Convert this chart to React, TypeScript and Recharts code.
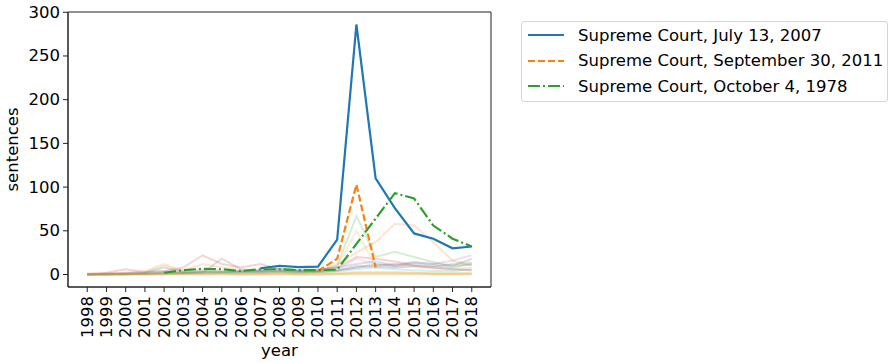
import { LineChart, Line, XAxis, YAxis, ReferenceArea } from 'recharts';

const YEARS = [
  1998, 1999, 2000, 2001, 2002, 2003, 2004, 2005, 2006, 2007, 2008,
  2009, 2010, 2011, 2012, 2013, 2014, 2015, 2016, 2017, 2018,
];

const Y_TICKS = [0, 50, 100, 150, 200, 250, 300];

// highlighted cases
const july2007 = [null, null, null, null, null, null, null, null, null, 7, 10, 8.5, 9, 40, 286, 110, 76, 47, 41, 30, 32];
const sept2011 = [null, null, null, null, null, null, null, null, null, null, null, null, 4, 18, 103, 8, null, null, null, null, null];
const oct1978 = [null, null, null, null, 2, 5, 6.5, 6, 4, 6, 6, 5, 5, 5.5, 35, 64, 93, 87, 56, 41, 32];

// faint background cases
const bgRed = [1, 2, 6, 3, 4, 8, 22, 12, 8, 12, 6, 4, 5, 8, 20, 18, 15, 10, 8, 6, 5];
const bgOrange = [0, 1, 2, 4, 12, 4, 12, 8, 5, 4, 5, 3, 4, 12, 25, 37, 58, 56, 37, 16, 10];
const bgGreen = [0, 1, 1, 2, 3, 2, 3, 2, 3, 4, 8, 5, 4, 10, 67, 20, 26, 20, 14, 10, 12];
const bgOlive = [0, 0, 1, 2, 10, 3, 4, 5, 3, 2, 3, 2, 3, 8, 50, 10, 12, 10, 8, 6, 8];
const bgPurple = [0, 0, 1, 1, 2, 2, 2, 3, 3, 2, 3, 3, 4, 5, 8, 10, 12, 14, 12, 16, 22];
const bgBrown = [0, 0, 0, 1, 1, 2, 2, 18, 6, 4, 4, 3, 3, 4, 8, 12, 10, 14, 12, 10, 18];
const bgBlue = [0, 1, 1, 2, 8, 3, 4, 3, 4, 5, 6, 5, 6, 8, 12, 15, 10, 12, 10, 8, 12];
const bgPink = [0, 1, 2, 3, 4, 5, 6, 4, 3, 4, 5, 4, 5, 6, 18, 12, 8, 9, 7, 6, 5];
const bgCyan = [0, 0, 0, 1, 1, 1, 2, 2, 2, 3, 3, 2, 3, 4, 6, 8, 6, 5, 4, 4, 6];
const bgGray = [0, 1, 1, 1, 2, 2, 3, 3, 4, 3, 4, 4, 3, 5, 10, 9, 8, 10, 9, 12, 14];
const bgLow1 = [1, 1, 1, 1, 2, 1, 2, 2, 1, 2, 2, 1, 2, 2, 3, 3, 3, 2, 2, 2, 2];
const bgLow2 = [0, 0, 0, 0, 1, 1, 1, 1, 1, 1, 1, 1, 1, 1, 2, 2, 2, 2, 1, 1, 1];
const bgLow3 = [0, 0, 1, 0, 0, 1, 0, 1, 0, 0, 1, 0, 0, 1, 1, 1, 1, 1, 1, 1, 1];
const bgLow4 = [0, 0, 0, 0, 0, 0, 0, 0, 0, 0, 0, 0, 0, 0, 0, 0, 0, 0, 0, 0, 0];

const mainSeries = [
  { key: 'july2007', name: 'Supreme Court, July 13, 2007', values: july2007, color: '#1f77b4', dash: undefined },
  { key: 'sept2011', name: 'Supreme Court, September 30, 2011', values: sept2011, color: '#ff7f0e', dash: '7 3' },
  { key: 'oct1978', name: 'Supreme Court, October 4, 1978', values: oct1978, color: '#2ca02c', dash: '12 3 2 3' },
];

const bgSeries = [
  { key: 'bgRed', values: bgRed, color: '#d62728' },
  { key: 'bgOrange', values: bgOrange, color: '#ff7f0e' },
  { key: 'bgGreen', values: bgGreen, color: '#2ca02c' },
  { key: 'bgOlive', values: bgOlive, color: '#bcbd22' },
  { key: 'bgPurple', values: bgPurple, color: '#9467bd' },
  { key: 'bgBrown', values: bgBrown, color: '#8c564b' },
  { key: 'bgBlue', values: bgBlue, color: '#1f77b4' },
  { key: 'bgPink', values: bgPink, color: '#e377c2' },
  { key: 'bgCyan', values: bgCyan, color: '#17becf' },
  { key: 'bgGray', values: bgGray, color: '#7f7f7f' },
  { key: 'bgLow1', values: bgLow1, color: '#bcbd22' },
  { key: 'bgLow2', values: bgLow2, color: '#ff7f0e' },
  { key: 'bgLow3', values: bgLow3, color: '#bcbd22' },
  { key: 'bgLow4', values: bgLow4, color: '#ff7f0e' },
];

const data = YEARS.map((year, i) => {
  const row: Record<string, number | null> = { year };
  bgSeries.forEach((s) => (row[s.key] = s.values[i]));
  mainSeries.forEach((s) => (row[s.key] = s.values[i]));
  return row;
});

const FONT = '"DejaVu Sans", sans-serif';
const FONT_SIZE = 16.5;

const XTick = (props: any) => {
  const { x, y, payload } = props;
  return (
    <text
      x={x}
      y={y + 1}
      transform={`rotate(-90, ${x}, ${y + 1})`}
      textAnchor="end"
      dominantBaseline="central"
      fill="#000"
      fontSize={FONT_SIZE}
      fontFamily={FONT}
    >
      {payload.value}
    </text>
  );
};

const YTick = (props: any) => {
  const { x, y, payload } = props;
  return (
    <text x={x} y={y} textAnchor="end" dominantBaseline="central" fill="#000" fontSize={FONT_SIZE} fontFamily={FONT}>
      {payload.value}
    </text>
  );
};

export default function App() {
  return (
    <div style={{ position: 'absolute', left: 0, top: 0, width: 889, height: 363, background: '#fff' }}>
      <LineChart width={889} height={363} data={data} margin={{ top: 12, right: 398, bottom: 0, left: 0 }}>
        <XAxis
          dataKey="year"
          type="number"
          domain={[1997, 2019]}
          ticks={YEARS}
          interval={0}
          allowDataOverflow
          height={76}
          tick={<XTick />}
          tickSize={5}
          tickMargin={3}
          stroke="#222"
          tickLine={{ stroke: '#222' }}
          label={{
            content: (p: any) => (
              <text
                x={p.viewBox.x + p.viewBox.width / 2}
                y={p.viewBox.y + 63}
                textAnchor="middle"
                dominantBaseline="central"
                fontSize={FONT_SIZE}
                fontFamily={FONT}
                fill="#000"
              >
                year
              </text>
            ),
          }}
        />
        <YAxis
          type="number"
          domain={[-14.3, 300.3]}
          ticks={Y_TICKS}
          allowDataOverflow
          width={68}
          tick={<YTick />}
          tickSize={5}
          tickMargin={3}
          stroke="#222"
          tickLine={{ stroke: '#222' }}
          label={{
            content: (p: any) => {
              const cx = 12;
              const cy = p.viewBox.y + p.viewBox.height / 2;
              return (
                <text
                  x={cx}
                  y={cy}
                  transform={`rotate(-90, ${cx}, ${cy})`}
                  textAnchor="middle"
                  dominantBaseline="central"
                  fontSize={FONT_SIZE}
                  fontFamily={FONT}
                  fill="#000"
                >
                  sentences
                </text>
              );
            },
          }}
        />
        {bgSeries.map((s) => (
          <Line
            key={s.key}
            dataKey={s.key}
            stroke={s.color}
            strokeOpacity={0.2}
            strokeWidth={2}
            dot={false}
            activeDot={false}
            isAnimationActive={false}
          />
        ))}
        {mainSeries.map((s) => (
          <Line
            key={s.key}
            dataKey={s.key}
            name={s.name}
            stroke={s.color}
            strokeWidth={2.2}
            strokeDasharray={s.dash}
            dot={false}
            activeDot={false}
            isAnimationActive={false}
          />
        ))}
        <ReferenceArea
          x1={1997}
          x2={2019}
          y1={-14.3}
          y2={300.3}
          fill="none"
          stroke="#222"
          strokeWidth={1}
          ifOverflow="visible"
        />
      </LineChart>
      <div
        style={{
          position: 'absolute',
          left: 521,
          top: 21,
          width: 365,
          height: 79,
          border: '1px solid #d5d5d5',
          borderRadius: 3,
          fontFamily: FONT,
          fontSize: FONT_SIZE,
          boxSizing: 'content-box',
        }}
      >
        {mainSeries.map((s, i) => (
          <div
            key={s.key}
            style={{ position: 'absolute', left: 6, top: 13 + i * 25.5 - 12, height: 24, display: 'flex', alignItems: 'center' }}
          >
            <svg width={36} height={6} style={{ marginRight: 14 }}>
              <line x1={0} y1={3} x2={36} y2={3} stroke={s.color} strokeWidth={2.2} strokeDasharray={s.dash} />
            </svg>
            <span style={{ whiteSpace: 'nowrap', color: '#000' }}>{s.name}</span>
          </div>
        ))}
      </div>
    </div>
  );
}
